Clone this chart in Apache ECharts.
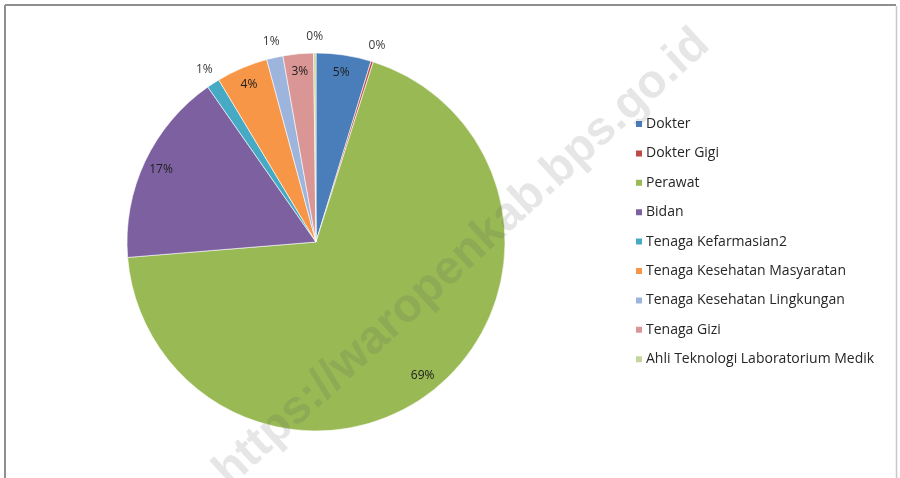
<!DOCTYPE html>
<html>
<head>
<meta charset="utf-8">
<script src="https://cdn.jsdelivr.net/npm/echarts@6/dist/echarts.min.js"></script>
<style>
html,body{margin:0;padding:0;background:#fff;}
#chart{width:900px;height:478px;}
</style>
</head>
<body>
<div id="chart"></div>
<script>
var categories = ['Dokter','Dokter Gigi','Perawat','Bidan','Tenaga Kefarmasian2','Tenaga Kesehatan Masyaratan','Tenaga Kesehatan Lingkungan','Tenaga Gizi','Ahli Teknologi Laboratorium Medik'];
var values = [4.7, 0.2, 68.8, 16.6, 1.1, 4.4, 1.4, 2.6, 0.2];
var colors = ['#4A7EBB','#BE4B48','#98B954','#7D60A0','#46AAC5','#F79646','#9DB4DC','#D99694','#C3D69B'];
var labelInside = [true, false, true, true, false, true, false, true, false];

var chart = echarts.init(document.getElementById('chart'));
var cx = 316, cy = 242, R = 189;

function fmt(p){ return Math.round(p.percent) + '%'; }

var mainData = categories.map(function(n,i){ return {name:n, value:values[i], itemStyle:{color:colors[i]}}; });
var innerData = categories.map(function(n,i){ return {name:n, value:values[i], label:{show:labelInside[i]}}; });
var outerData = categories.map(function(n,i){ return {name:n, value:values[i], label:{show:!labelInside[i]}}; });

var overlayBase = {
  type:'pie', center:[cx,cy], startAngle:90, clockwise:true, silent:true,
  avoidLabelOverlap:false, animation:false, legendHoverLink:false,
  itemStyle:{color:'rgba(0,0,0,0)', borderWidth:0},
  labelLine:{show:false}, emphasis:{disabled:true}
};

chart.setOption({
  backgroundColor:'#ffffff',
  animation:false,
  legend:{
    orient:'vertical', left:629, top:112,
    itemWidth:8, itemHeight:8, itemGap:15.4,
    icon:'rect',
    textStyle:{fontFamily:'Open Sans', fontSize:14, color:'#262626', padding:[0,0,0,-2]},
    data:categories
  },
  series:[
    {
      type:'pie', name:'main', center:[cx,cy], radius:R, startAngle:90, clockwise:true,
      avoidLabelOverlap:false, animation:false,
      itemStyle:{borderColor:'#ffffff', borderWidth:0.6},
      label:{show:false}, labelLine:{show:false},
      data:mainData
    },
    Object.assign({}, overlayBase, {
      name:'labelsIn', radius:[R*0.78, R],
      label:{position:'inside', formatter:fmt, fontFamily:'Open Sans', fontSize:12, color:'#202020'},
      data:innerData
    }),
    Object.assign({}, overlayBase, {
      name:'labelsOut', radius:[R, R*1.14],
      label:{position:'inside', formatter:fmt, fontFamily:'Open Sans', fontSize:12, color:'#3a3a3a'},
      data:outerData
    })
  ],
  graphic:[
    {type:'line', z:100, shape:{x1:5,y1:5,x2:896,y2:5}, style:{stroke:'#8f8f8f', lineWidth:2}},
    {type:'line', z:100, shape:{x1:5,y1:5,x2:5,y2:478}, style:{stroke:'#8f8f8f', lineWidth:2}},
    {type:'line', z:100, shape:{x1:896.5,y1:6,x2:896.5,y2:478}, style:{stroke:'#c8c8c8', lineWidth:1.5}},
    {type:'text', z:50, x:462, y:258, rotation:42.5*Math.PI/180, originX:0, originY:0,
      style:{text:'https://waropenkab.bps.go.id', fontFamily:'Liberation Sans', fontWeight:'bold', fontSize:47,
        fill:'rgba(90,90,90,0.15)', align:'center', verticalAlign:'middle'}}
  ]
});
</script>
</body>
</html>
